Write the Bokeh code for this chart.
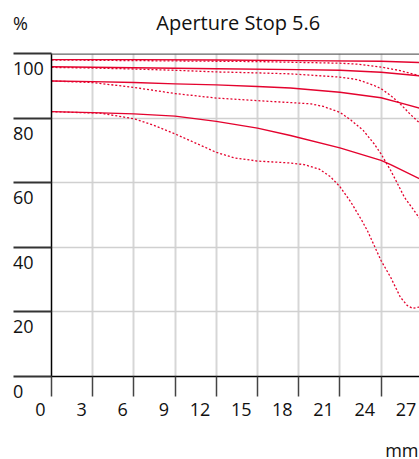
from bokeh.plotting import figure
from bokeh.models import (Range1d, FixedTicker, ColumnDataSource, Span, CustomJSTickFormatter)
from bokeh.core.properties import value
from bokeh.embed import file_html
from bokeh.resources import INLINE

# ---- data ----
title_text = "Aperture Stop 5.6"
y_unit = "%"
x_unit = "mm"
x_ticks = [0, 3, 6, 9, 12, 15, 18, 21, 24, 27]
y_ticks = [0, 20, 40, 60, 80, 100]

# 5 lp/mm
sag5_x = [0, 6, 12, 18, 24, 26.8]
sag5_y = [98.1, 98.1, 98.0, 97.8, 97.6, 97.2]
tan5_x = [0, 3, 6, 9, 12, 15, 17.4, 21, 22.3, 24, 25.4, 26.8]
tan5_y = [98.0, 97.9, 97.8, 97.7, 97.6, 97.5, 97.3, 97.0, 96.7, 95.8, 94.7, 93.1]
# 10 lp/mm
sag10_x = [0, 6, 12, 18, 21, 24, 26.8]
sag10_y = [95.9, 95.6, 95.3, 95.0, 94.8, 94.2, 93.1]
tan10_x = [0, 3, 6, 9, 12, 15, 17.4, 21, 22.3, 23.5, 24, 24.7, 25.4, 26.1, 26.8]
tan10_y = [95.7, 95.5, 95.2, 94.8, 94.3, 94.0, 93.7, 92.7, 91.9, 90.1, 89.1, 87.0, 84.4, 81.3, 78.5]
# 20 lp/mm
sag20_x = [0, 3, 6, 9, 12, 15, 17.4, 21, 24, 25.4, 26.8]
sag20_y = [91.5, 91.3, 91.0, 90.6, 90.3, 89.8, 89.3, 88.0, 86.3, 84.7, 83.1]
tan20_x = [0, 3, 6, 9, 12, 15, 17.4, 18.9, 19.8, 21, 21.8, 22.7, 23.5, 24, 24.7, 25.2, 25.7, 26.4, 26.8]
tan20_y = [91.5, 91.0, 89.5, 87.6, 86.2, 85.4, 84.8, 84.4, 83.6, 81.8, 79.4, 76.2, 72.0, 68.9, 63.8, 59.7, 55.5, 51.4, 49.0]
# 40 lp/mm
sag40_x = [0, 3, 6, 9, 12, 15, 17.4, 21, 24, 24.7, 26.8]
sag40_y = [82.0, 81.7, 81.3, 80.6, 79.0, 76.9, 74.6, 70.8, 66.9, 65.6, 61.2]
tan40_x = [0, 3.6, 6, 7.5, 9, 10.9, 12, 13.3, 15, 17.4, 18.4, 19.5, 20.3, 21, 21.8, 22.6, 23, 24, 24.7, 25.4, 25.9, 26.3, 26.8]
tan40_y = [82.0, 81.5, 79.8, 77.7, 75.1, 71.5, 69.4, 67.7, 66.7, 66.1, 65.6, 64.2, 61.9, 58.8, 54.0, 48.3, 45.2, 35.9, 30.7, 24.6, 22.0, 21.1, 21.5]

RED = "#e4032e"
FONT = "Open Sans"
INK = "#111111"

p = figure(width=419, height=459, output_backend="svg", toolbar_location=None,
           x_range=Range1d(0, 26.8), y_range=Range1d(0, 100),
           min_border_left=51, min_border_right=0, min_border_top=53, min_border_bottom=83)
p.outline_line_color = None
p.background_fill_color = "white"
p.border_fill_color = "white"

empty = CustomJSTickFormatter(code="return ''")

xa = p.xaxis[0]
xa.ticker = FixedTicker(ticks=x_ticks)
xa.formatter = empty
xa.major_tick_in = 0
xa.major_tick_out = 20
xa.minor_tick_line_color = None
xa.major_tick_line_color = "#444444"
xa.major_tick_line_width = 1.5
xa.axis_line_color = "black"
xa.axis_line_width = 1.5
xa.major_label_standoff = 0
xa.major_label_text_font_size = "1px"

ya = p.yaxis[0]
ya.ticker = FixedTicker(ticks=y_ticks)
ya.formatter = empty
ya.major_tick_in = 0
ya.major_tick_out = 38
ya.minor_tick_line_color = None
ya.major_tick_line_color = "#333333"
ya.major_tick_line_width = 2
ya.axis_line_color = "black"
ya.axis_line_width = 1.5
ya.major_label_standoff = 0
ya.major_label_text_font_size = "1px"

p.xgrid.ticker = FixedTicker(ticks=x_ticks)
p.xgrid.grid_line_color = "#d6d6d6"
p.xgrid.grid_line_width = 2
p.ygrid.ticker = FixedTicker(ticks=y_ticks)
p.ygrid.grid_line_color = "#d0d0d0"
p.ygrid.grid_line_width = 1.5

p.add_layout(Span(location=100, dimension="width", line_color="#666666", line_width=2.5))

for xs, ys, dash in [(sag5_x, sag5_y, "solid"), (tan5_x, tan5_y, "2 2"),
                     (sag10_x, sag10_y, "solid"), (tan10_x, tan10_y, "2 2"),
                     (sag20_x, sag20_y, "solid"), (tan20_x, tan20_y, "2 2"),
                     (sag40_x, sag40_y, "solid"), (tan40_x, tan40_y, "2 2")]:
    p.line(xs, ys, line_color=RED, line_width=1.4 if dash == "solid" else 1.3,
           line_dash=dash, line_join="round")

txt = dict(text_font=value(FONT), text_font_size="18px", text_color=INK,
           text_baseline="alphabetic", level="overlay")

ysrc = ColumnDataSource(dict(x=[0] * len(y_ticks), y=y_ticks, t=[str(v) for v in y_ticks]))
p.text(x="x", y="y", text="t", source=ysrc, x_offset=-38.5, y_offset=15,
       text_align="left", **txt)
xsrc = ColumnDataSource(dict(x=x_ticks, y=[0] * len(x_ticks), t=[str(v) for v in x_ticks]))
p.text(x="x", y="y", text="t", source=xsrc, x_offset=-6, y_offset=33,
       text_align="right", **txt)
p.text(x=[0], y=[100], text=[y_unit], x_offset=-38.5, y_offset=-31, text_align="left", **txt)
p.text(x=[26.8], y=[0], text=[x_unit], x_offset=-1, y_offset=73, text_align="right", **txt)
p.text(x=[13.6], y=[100], text=[title_text], x_offset=0, y_offset=-31, text_align="center",
       text_font=value(FONT), text_font_size="20px", text_color=INK,
       text_baseline="alphabetic", level="overlay")

open("out.html", "w").write(file_html(p, INLINE))
